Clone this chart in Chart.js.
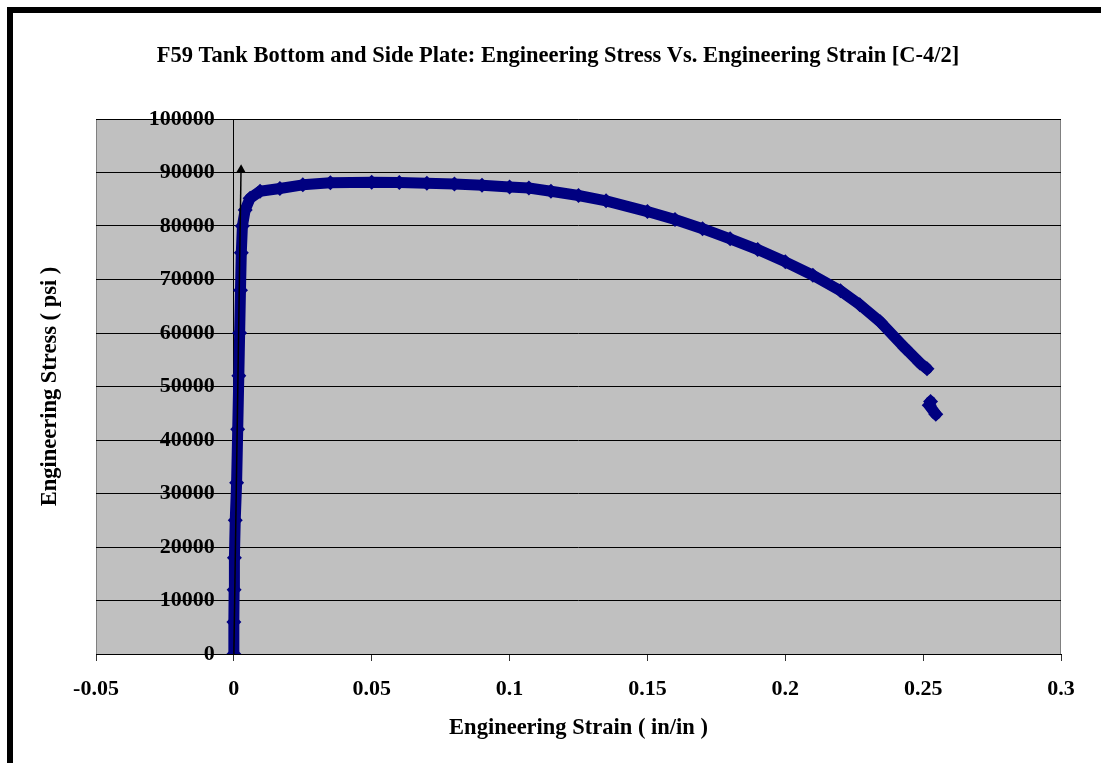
<!DOCTYPE html>
<html>
<head>
<meta charset="utf-8">
<title>F59 Tank Bottom and Side Plate</title>
<script src="https://cdn.jsdelivr.net/npm/chart.js@4/dist/chart.umd.min.js"></script>
<style>
  html, body { margin: 0; padding: 0; background: #ffffff; }
  #wrap { width: 1101px; height: 763px; }
  canvas { display: block; }
</style>
</head>
<body>
<div id="wrap"><canvas id="chart" width="1101" height="763"></canvas></div>
<script>
// Tensile test, specimen C-4/2: engineering strain (in/in) vs engineering stress (psi)
const strainMain = [
  0, 0.0000, 0.0001, 0.0002, 0.0005, 0.0010, 0.0014, 0.0018, 0.0021, 0.0024,
  0.0027, 0.0031, 0.0041, 0.0059, 0.0095, 0.0167, 0.025, 0.035, 0.05, 0.06,
  0.07, 0.08, 0.09, 0.10, 0.107, 0.115, 0.125, 0.135, 0.15, 0.16,
  0.17, 0.18, 0.19, 0.20, 0.21, 0.22, 0.227, 0.2344, 0.2434, 0.2488, 0.2514
];
const stressMain = [
  0, 6000, 12000, 18000, 25000, 32000, 42000, 52000, 60000, 68000,
  75000, 80000, 83000, 85200, 86500, 87000, 87700, 88100, 88200, 88150,
  88000, 87850, 87600, 87300, 87100, 86500, 85700, 84700, 82700, 81200,
  79500, 77600, 75600, 73300, 70800, 67900, 65300, 62100, 57200, 54400, 53300
];
// Readings after fracture
const strainTail = [0.2527, 0.2522, 0.2546];
const stressTail = [47200, 46500, 44800];

// Annotation arrow marking the elastic line
const arrowStrain = [0, 0.0026];
const arrowStress = [0, 90500];

const xTickLabels = ['-0.05', '0', '0.05', '0.1', '0.15', '0.2', '0.25', '0.3'];
const yTickLabels = ['0', '10000', '20000', '30000', '40000', '50000',
                     '60000', '70000', '80000', '90000', '100000'];

const chartTitle = 'F59 Tank Bottom and Side Plate: Engineering Stress Vs. Engineering Strain [C-4/2]';
const xTitle = 'Engineering Strain ( in/in )';
const yTitle = 'Engineering Stress ( psi )';

const toPoints = (xs, ys) => xs.map((x, i) => ({ x: x, y: ys[i] }));

const SERIF = '"Liberation Serif", "Times New Roman", serif';
const TITLE_FONT = 'bold 22.5px ' + SERIF;
const TICK_FONT = 'bold 22px ' + SERIF;
const tickFont = { family: SERIF, size: 22, weight: 'bold' };
const NAVY = '#000080';

const framePlugin = {
  id: 'frame',
  beforeDraw(chart) {
    const { ctx, chartArea: a, width, height } = chart;
    ctx.save();
    ctx.fillStyle = '#ffffff';
    ctx.fillRect(0, 0, width, height);
    // outer black frame (top and left edges)
    ctx.fillStyle = '#000000';
    ctx.fillRect(7, 7, width - 7, 6);
    ctx.fillRect(7, 7, 6, height - 7);
    // plot area
    ctx.fillStyle = '#c0c0c0';
    ctx.fillRect(a.left, a.top, a.right - a.left, a.bottom - a.top);
    ctx.strokeStyle = '#808080';
    ctx.lineWidth = 1;
    ctx.beginPath();
    ctx.moveTo(a.left + 0.5, a.bottom);
    ctx.lineTo(a.left + 0.5, a.top + 0.5);
    ctx.lineTo(a.right - 0.5, a.top + 0.5);
    ctx.lineTo(a.right - 0.5, a.bottom);
    ctx.stroke();
    ctx.restore();
  },
  afterDraw(chart) {
    const { ctx, chartArea: a } = chart;
    const xs = chart.scales.x;
    const ys = chart.scales.y;
    ctx.save();
    ctx.fillStyle = '#000000';

    // value labels of the stress axis, set left of the zero-strain axis line
    ctx.font = TICK_FONT;
    ctx.textAlign = 'right';
    ctx.textBaseline = 'middle';
    const axisX = xs.getPixelForValue(0);
    ys.ticks.forEach((t, i) => {
      ctx.fillText(yTickLabels[i], axisX - 19, ys.getPixelForValue(t.value));
    });

    // titles
    ctx.font = TITLE_FONT;
    ctx.textAlign = 'center';
    ctx.textBaseline = 'alphabetic';
    ctx.fillText(chartTitle, 558, 62);
    ctx.fillText(xTitle, (a.left + a.right) / 2, 734);
    ctx.translate(56, (a.top + a.bottom) / 2);
    ctx.rotate(-Math.PI / 2);
    ctx.fillText(yTitle, 0, 0);
    ctx.restore();
  }
};

const curveStyle = {
  showLine: true,
  borderColor: NAVY,
  borderWidth: 11,
  borderJoinStyle: 'round',
  borderCapStyle: 'round',
  pointStyle: 'rectRot',
  pointRadius: 7.5,
  pointBackgroundColor: NAVY,
  pointBorderColor: NAVY,
  pointBorderWidth: 0,
  order: 1
};

new Chart(document.getElementById('chart'), {
  type: 'scatter',
  data: {
    datasets: [
      {
        label: 'Arrow',
        data: toPoints(arrowStrain, arrowStress),
        showLine: true,
        borderColor: '#000000',
        borderWidth: 1.5,
        pointRadius: [0, 5.5],
        pointStyle: 'triangle',
        pointRotation: 1,
        pointBackgroundColor: '#000000',
        pointBorderColor: '#000000',
        pointBorderWidth: 0,
        order: 0
      },
      Object.assign({ label: 'C-4/2', data: toPoints(strainMain, stressMain) }, curveStyle),
      Object.assign({ label: 'C-4/2 after fracture', data: toPoints(strainTail, stressTail) }, curveStyle)
    ]
  },
  options: {
    responsive: false,
    animation: false,
    devicePixelRatio: 1,
    layout: { padding: { left: 96, right: 40, top: 119, bottom: 0 } },
    plugins: {
      legend: { display: false },
      tooltip: { enabled: false },
      title: { display: false }
    },
    scales: {
      x: {
        type: 'linear',
        position: 'bottom',
        min: -0.05,
        max: 0.3,
        afterFit(scale) { scale.height = 109; },
        ticks: {
          stepSize: 0.05,
          color: '#000000',
          font: tickFont,
          padding: 15,
          maxRotation: 0,
          callback: (v, i) => xTickLabels[i]
        },
        grid: { drawOnChartArea: false, drawTicks: true, tickLength: 7, color: '#333333' },
        border: { display: true, color: '#000000', width: 1 }
      },
      y: {
        type: 'linear',
        position: { x: 0 },
        min: 0,
        max: 100000,
        ticks: {
          stepSize: 10000,
          display: false
        },
        grid: { color: '#000000', lineWidth: 1, drawTicks: true, tickLength: 7 },
        border: { display: true, color: '#000000', width: 1 }
      }
    }
  },
  plugins: [framePlugin]
});
</script>
</body>
</html>
